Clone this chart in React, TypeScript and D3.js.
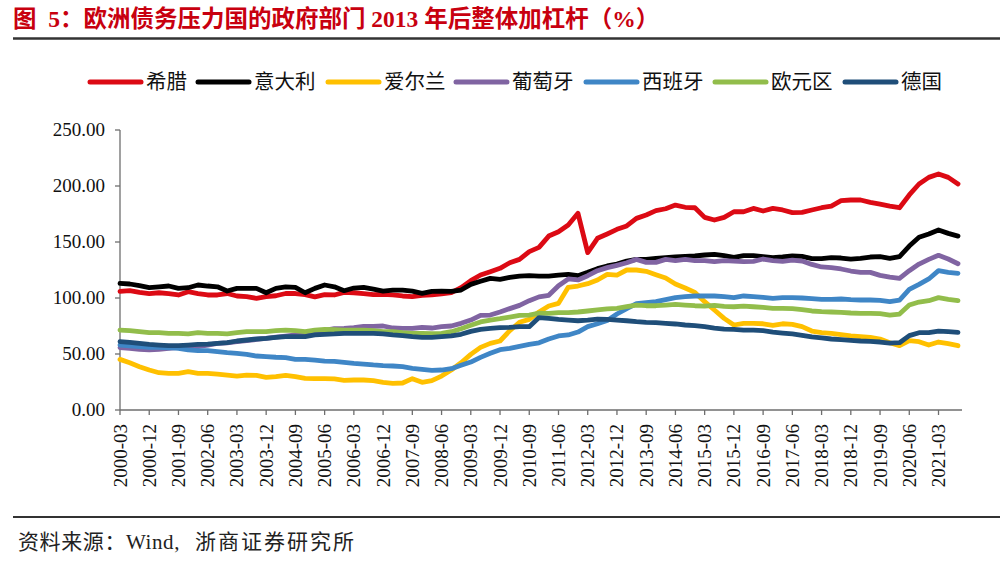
import React from "react";
import * as d3 from "d3";

const TITLE = "图  5：欧洲债务压力国的政府部门 2013 年后整体加杠杆（%）";
const SOURCE_A = "资料来源：Wind,";
const SOURCE_B = "浙商证券研究所";

// Quarterly periods 2000-03 .. 2021-09 (87 quarters)
const periods: string[] = [];
for (let y = 2000; y <= 2021; y++) {
  for (const m of ["03", "06", "09", "12"]) {
    if (y === 2021 && (m === "12")) continue;
    periods.push(`${y}-${m}`);
  }
}
const tickLabels = periods.filter((_, i) => i % 3 === 0);
const yTicks = [0, 50, 100, 150, 200, 250];

const seriesNames = ["希腊", "意大利", "爱尔兰", "葡萄牙", "西班牙", "欧元区", "德国"];
const seriesColors = ["#dc0a14", "#000000", "#ffc000", "#8064a2", "#3f86c6", "#92bd4b", "#1f4e79"];

const greece = [
  106, 106.5, 105, 104, 104.7, 104, 102.7, 105.6, 104, 102.7, 102.7, 104, 101.8, 101.2, 99.7, 101.2, 102, 104, 104, 103, 101, 103,
  102.7, 105, 104.7, 104, 103, 103.3, 102.7, 101.8, 101.2, 102.4, 102.7, 103.6, 104.7, 109.2, 115.5, 120.5, 123.5, 126.5, 131.5, 134.5, 141.4, 145.2,
  155.3, 159.2, 165.2, 175.6, 140.5, 153.3, 157.2, 161.3, 164.3, 171.1, 174.1, 178, 179.7, 183, 181, 180.6, 172, 169.6, 172, 177, 177,
  180, 177.7, 180, 178.6, 176.2, 176.5, 178.6, 180.6, 182.1, 186.9, 187.5, 187.5, 185.4, 183.9, 182.1, 180.6, 192, 201.8, 207.7, 210.7, 207.7, 201.8,
];
const italy = [
  113, 112.5, 111, 109.2, 110, 110.7, 108.6, 109.2, 111.6, 110.7, 110, 106.2, 108.6, 108.6, 108.6, 104.7, 108.6, 110, 109.5, 104.7, 108.6, 111.6,
  110, 106.5, 108.9, 109.5, 108, 106.2, 107.1, 107.1, 106.2, 104.2, 106, 106.2, 106, 107.1, 112.2, 114.9, 117.5, 116.7, 118.4, 119.6, 119.9, 119.6,
  119.6, 120.5, 121.1, 119.9, 122.9, 126.2, 128.6, 130.3, 133, 134.5, 134.5, 135.4, 136, 136.6, 137.2, 137.5, 138.4, 139, 137.8, 136.3, 137.8,
  137.8, 136.9, 136, 136.6, 137.5, 137.2, 135.1, 135.1, 136, 135.7, 134.8, 135.4, 136.6, 136.9, 135.4, 137, 146.4, 154.2, 157.1, 160.7, 157.7, 155.3,
];
const ireland = [
  45.2, 42.2, 38.7, 35.7, 33.3, 32.7, 32.7, 34.2, 32.7, 32.7, 32.1, 31.2, 30.3, 31.2, 30.9, 29.2, 29.8, 30.9, 29.8, 28.2, 28, 28,
  27.7, 26.5, 26.8, 26.8, 26.2, 24.7, 23.8, 24.1, 28, 24.7, 26.2, 30.3, 35.7, 42.2, 49.7, 55.9, 59.5, 61.6, 70.8, 78.3, 80.9, 87.5,
  92.9, 95.2, 109.5, 110.7, 112.8, 116.1, 121.1, 120.5, 125, 125, 123.8, 120.8, 117.9, 112.5, 108.9, 105, 96.7, 89.3, 81.8, 75.9, 77.4,
  77.4, 77, 75.6, 77, 76.5, 74.4, 70.5, 69, 68.5, 67.3, 66.1, 65.5, 64.9, 63.4, 60.1, 57.4, 61.9, 61, 58, 60.7, 59.2, 57.4,
];
const portugal = [
  55.6, 55, 54.2, 53.6, 54.2, 55, 56, 56.5, 56.5, 58, 59.5, 60, 61, 62, 63, 64, 65, 66, 67, 68, 69.5, 71,
  72.6, 72.9, 73.5, 74.7, 74.7, 75, 73.2, 72.9, 72.9, 73.8, 73.2, 74.4, 75, 77.4, 80.3, 84.5, 84.8, 87.5, 90.5, 93.4, 97.6, 101,
  102.4, 111, 117, 116.1, 119.9, 124.4, 127.1, 129.2, 131.5, 134.5, 131.8, 131.8, 134.5, 133.3, 134.5, 133.3, 133.3, 132.4, 133.3, 133, 132.4,
  132.7, 134.8, 133.3, 132.7, 133.9, 133, 130, 127.7, 127.1, 125.9, 124.1, 122.9, 122.9, 120.2, 118.7, 117.5, 124.4, 130.3, 134.5, 138.1, 134.8, 130.6,
];
const spain = [
  58, 57.2, 56.5, 55.9, 55.9, 55.6, 55, 53.6, 53, 53, 52.1, 51.2, 50.6, 49.7, 48.2, 47.6, 47.1, 46.8, 45.2, 45.2, 44.6, 43.7,
  43.4, 42.5, 41.6, 41, 40.2, 39.6, 39.3, 38.7, 37.2, 36.3, 35.4, 35.7, 36.9, 39.9, 42.8, 47, 50.6, 53.9, 55, 56.8, 58.6, 60,
  63.4, 66.1, 67, 69.6, 74.4, 77, 80, 85.7, 90.5, 94.9, 95.8, 96.7, 98.5, 100.3, 101.2, 101.8, 101.8, 101.8, 101.2, 100.3, 101.8,
  101.2, 100.6, 99.7, 100.3, 100.3, 100, 99.4, 98.8, 98.8, 99.1, 98.5, 98.2, 98.2, 97.9, 96.7, 98.2, 107.7, 112.2, 117, 124.4, 122.9, 122,
];
const eurozone = [
  71.4, 70.8, 69.9, 69, 69, 68.5, 68.5, 67.9, 69, 68.5, 68.5, 67.9, 69, 69.9, 69.9, 69.9, 70.8, 71.4, 70.8, 69.9, 71.4, 72,
  71.7, 71.4, 71.4, 71.4, 70.8, 69.9, 69.9, 69, 68.5, 68.5, 68.2, 68.5, 69.9, 72.6, 75.6, 78.6, 80.3, 81.5, 83, 84.5, 84.8, 86.5,
  86.3, 86.9, 86.9, 87.5, 88.4, 89.3, 90.2, 90.8, 92.3, 93.7, 93.1, 93.1, 93.7, 94.3, 93.7, 93.1, 92.8, 93.4, 92.5, 92.2, 92.8,
  92.2, 91.7, 90.8, 90.8, 90.5, 89.6, 88.4, 87.8, 87.5, 87.2, 86.6, 86.3, 86.3, 86, 84.8, 85.7, 93.7, 96.4, 97.6, 100.3, 98.8, 97.6,
];
const germany = [
  61, 60.4, 59.5, 58.6, 58, 57.4, 57.4, 58, 58.6, 58.9, 59.5, 60.1, 61.6, 62.5, 63.4, 64, 64.9, 65.5, 65.5, 65.5, 67, 67.6,
  67.9, 68.5, 68.5, 68.5, 68.5, 67.9, 67, 66.4, 65.5, 64.9, 64.9, 65.5, 66.1, 67.6, 70.2, 72, 72.9, 73.5, 73.8, 74.4, 74.4, 82.5,
  81.8, 80.9, 80.3, 79.7, 80.3, 81.2, 80.9, 80.3, 79.7, 78.9, 78.3, 78, 77.4, 76.8, 75.9, 75.3, 74.4, 73.2, 72.3, 72, 71.4,
  71.4, 70.8, 69.6, 68.7, 67.9, 66.7, 65.2, 64.3, 63.4, 62.8, 62.2, 61.6, 61.3, 60.7, 59.8, 60.1, 66.4, 69, 69, 70.5, 69.9, 69.3,
];

const seriesValues = [greece, italy, ireland, portugal, spain, eurozone, germany];

const W = 1000;
const H = 562;
const left = 120;
const right = 958;
const top = 130;
const bottom = 410;

const serif = "'Liberation Serif', 'Times New Roman', serif";
const cjk = "'Liberation Serif', 'Noto Sans CJK SC', serif";

export default function App() {
  const x = d3.scalePoint<string>().domain(periods).range([left, right]);
  const y = d3.scaleLinear().domain([0, 250]).range([bottom, top]);
  const line = d3
    .line<number>()
    .x((_, i) => x(periods[i]) as number)
    .y((d) => y(d));

  const legendX = [90, 198, 328, 456, 586, 715, 845];
  const legendY = 82;

  return (
    <svg
      width={W}
      height={H}
      viewBox={`0 0 ${W} ${H}`}
      style={{ position: "absolute", left: 0, top: 0, background: "#fff" }}
    >
      <rect x={0} y={0} width={W} height={H} fill="#fff" />
      <text
        x={13}
        y={27}
        fill="#c8000f"
        fontFamily={cjk}
        fontWeight="bold"
        fontSize={23.5}
        style={{ whiteSpace: "pre" }}
      >
        {TITLE}
      </text>
      <line x1={13} x2={1000} y1={38.5} y2={38.5} stroke="#333" strokeWidth={2.5} />

      {/* legend */}
      {seriesNames.map((n, i) => (
        <g key={n}>
          <line
            x1={legendX[i]}
            x2={legendX[i] + 51}
            y1={legendY}
            y2={legendY}
            stroke={seriesColors[i]}
            strokeWidth={5}
            strokeLinecap="round"
          />
          <text x={legendX[i] + 56} y={legendY + 7} fontFamily={cjk} fontSize={20.5} fill="#111">
            {n}
          </text>
        </g>
      ))}

      {/* y axis */}
      <line x1={left} x2={left} y1={top} y2={bottom} stroke="#6e6e6e" strokeWidth={1.3} />
      {yTicks.map((t) => (
        <g key={t}>
          <line x1={left - 5} x2={left} y1={y(t)} y2={y(t)} stroke="#6e6e6e" strokeWidth={1.3} />
          <text
            x={left - 15}
            y={y(t) + 6}
            textAnchor="end"
            fontFamily={serif}
            fontSize={19}
            fill="#111"
          >
            {t.toFixed(2)}
          </text>
        </g>
      ))}

      {/* x axis */}
      <line x1={left} x2={962} y1={bottom} y2={bottom} stroke="#6e6e6e" strokeWidth={1.3} />
      {tickLabels.map((lab) => {
        const px = x(lab) as number;
        return (
          <g key={lab}>
            <line x1={px} x2={px} y1={bottom} y2={bottom + 5} stroke="#6e6e6e" strokeWidth={1.3} />
            <text
              transform={`translate(${px + 6.5},${bottom + 14}) rotate(-90)`}
              textAnchor="end"
              fontFamily={serif}
              fontSize={19}
              fill="#111"
            >
              {lab}
            </text>
          </g>
        );
      })}

      {/* series */}
      {seriesValues.map((vals, i) => (
        <path
          key={seriesNames[i]}
          d={line(vals) || ""}
          fill="none"
          stroke={seriesColors[i]}
          strokeWidth={4.8}
          strokeLinejoin="round"
          strokeLinecap="round"
        />
      ))}

      <line x1={13} x2={1000} y1={517} y2={517} stroke="#333" strokeWidth={2} />
      <text x={18} y={549} fontFamily={cjk} fontSize={21} fill="#222" letterSpacing={0.6}>
        {SOURCE_A}
      </text>
      <text x={195} y={549} fontFamily={cjk} fontSize={21} fill="#222" letterSpacing={2}>
        {SOURCE_B}
      </text>
    </svg>
  );
}
